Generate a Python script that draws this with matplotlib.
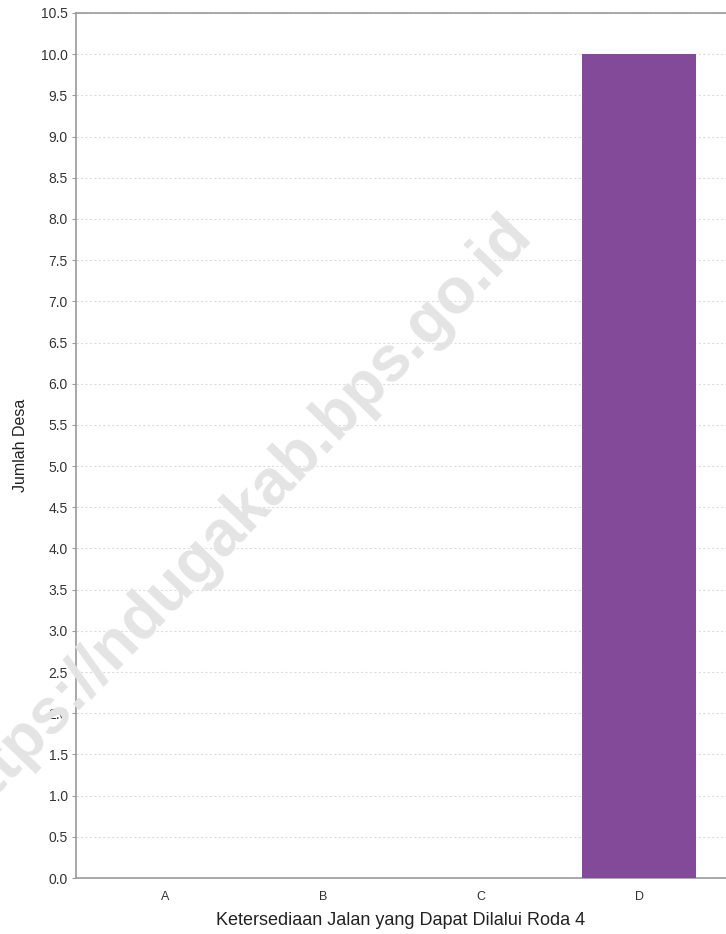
import numpy as np
import matplotlib
matplotlib.use('Agg')
import matplotlib.pyplot as plt

# Data
categories = ['A', 'B', 'C', 'D']
values = [0, 0, 0, 10]

bar_color = '#834A9A'
axis_color = '#9a9a9a'

plt.rcParams['font.family'] = ['Liberation Sans', 'DejaVu Sans']

fig = plt.figure(figsize=(7.26, 9.34), dpi=100)
ax = fig.add_axes([76 / 726, 56 / 934, 650 / 726, 865 / 934])

x = np.arange(len(categories))
ax.bar(x, values, width=0.72, color=bar_color, zorder=3)

ax.set_xlim(-0.563, 3.55)
ax.set_ylim(0, 10.5)
yticks = np.arange(0, 10.51, 0.5)
ax.set_yticks(yticks)
ax.set_yticklabels([f'{v:.1f}' for v in yticks])
ax.set_xticks(x)
ax.set_xticklabels(categories)

ax.grid(axis='y', color='#dddddd', linestyle=(0, (2, 2)), linewidth=0.8, zorder=0)

for side in ['left', 'bottom', 'top']:
    ax.spines[side].set_color(axis_color)
    ax.spines[side].set_linewidth(1.2)
ax.spines['right'].set_visible(False)

ax.tick_params(axis='y', length=3, color=axis_color, labelsize=10, labelcolor='#333333', pad=3)
ax.tick_params(axis='x', length=0, labelsize=9, labelcolor='#333333', pad=9)

ax.set_ylabel('Jumlah Desa', fontsize=11.5, color='#222222', labelpad=9)
ax.set_xlabel('Ketersediaan Jalan yang Dapat Dilalui Roda 4', fontsize=13,
              color='#222222', labelpad=7)

# watermark (cut off at the left edge, as in the original)
fig.text(237 / 726, 1 - 518 / 934, 'https://ndugakab.bps.go.id', fontsize=46,
         fontweight='bold', color='#e4e4e4', rotation=46, ha='center', va='center',
         rotation_mode='anchor', zorder=10)

fig.savefig('out.png', dpi=100)
